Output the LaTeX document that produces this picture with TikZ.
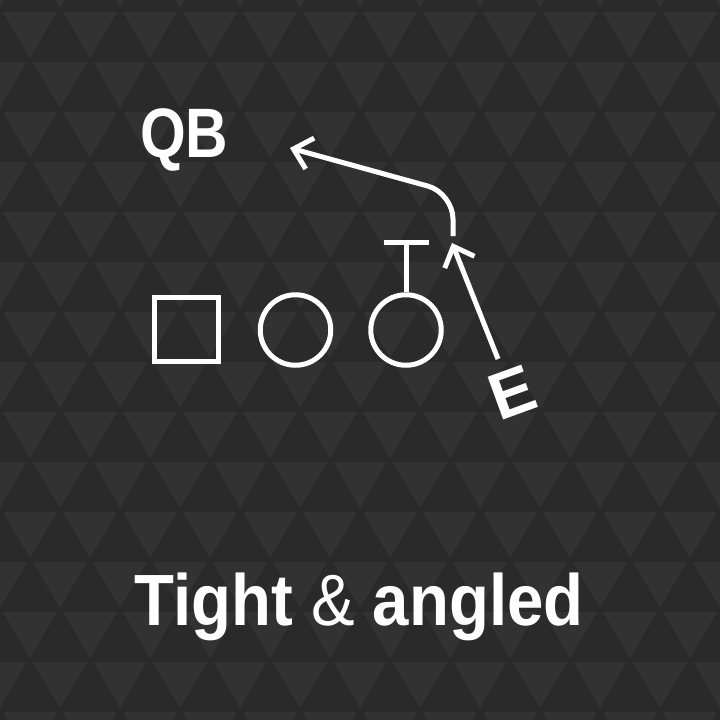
\documentclass[tikz,border=0pt]{standalone}
\usepackage{fontspec}
\setmainfont{Liberation Sans}
\usetikzlibrary{arrows.meta}
\definecolor{bgdark}{HTML}{2A2A2A}
\definecolor{bglight}{HTML}{323232}
\begin{document}
\begin{tikzpicture}[x=1pt,y=-1pt,
  figline/.style={draw=white, line width=5pt},
  route/.style={white, line width=5pt, -{Straight Barb[length=17pt,width=32pt]}},
  lbl/.style={text=white, inner sep=0pt, font=\bfseries\fontsize{70}{70}\selectfont}]
\useasboundingbox (0,0) rectangle (720,720);
\fill[bgdark] (0,0) rectangle (720,720);
\foreach \r in {0,...,15} {
  \pgfmathsetmacro{\yt}{-40+50*\r}
  \pgfmathsetmacro{\off}{isodd(\r) ? 30 : 0}
  \foreach \k in {-1,...,12} {
    \fill[bglight] ({\off+60*\k-27},{\yt+2}) -- ({\off+60*\k+27},{\yt+2}) -- ({\off+60*\k},{\yt+48}) -- cycle;
  }
}
% players
\node[figline, rectangle, minimum size=64pt, inner sep=0pt] (sq) at (186.5,329.5) {};
\node[figline, circle, minimum size=70.5pt, inner sep=0pt] (c1) at (295.5,330) {};
\node[figline, circle, minimum size=70.5pt, inner sep=0pt] (c2) at (406,330) {};
% block T
\coordinate (tb) at (406,242);
\coordinate (tl) at (384,242);
\coordinate (tr) at (429,242);
\draw[figline] (c2.north) -- (tb);
\draw[figline] (tl) -- (tr);
% QB route
\coordinate (r1) at (453,236);
\coordinate (r2) at (453,193);
\coordinate (r3) at (290,148);
\draw[route, rounded corners=26pt] (r1) -- (r2) -- (r3);
% E route
\node[lbl, font=\bfseries\fontsize{66}{66}\selectfont, rotate=20] (e) at (512,393) {E};
\coordinate (e1) at (498,359);
\coordinate (e2) at (452,243);
\draw[route] (e1) -- (e2);
% labels
\node[lbl, anchor=base west] (qb) at (140,157) {\scalebox{0.84}[1]{QB}};
\node[lbl, anchor=base, font=\fontsize{72.6}{72.6}\selectfont] (title) at (359,625) {\scalebox{0.9}[1]{\bfseries Tight {\mdseries\&} angled}};
\end{tikzpicture}
\end{document}
